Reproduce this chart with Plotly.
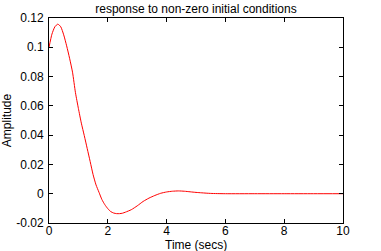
import plotly.graph_objects as go

time_s = [0.0, 0.1, 0.2, 0.3, 0.4, 0.5, 0.6, 0.7, 0.8, 0.9, 1.0, 1.1, 1.2, 1.3, 1.4,
          1.5, 1.6, 1.7, 1.8, 1.9, 2.0, 2.1, 2.2, 2.3, 2.4, 2.5, 2.6, 2.8, 3.0, 3.2,
          3.4, 3.6, 3.8, 4.0, 4.2, 4.4, 4.6, 4.8, 5.0, 5.2, 5.5, 6.0, 7.0, 8.0, 9.0, 10.0]
amplitude = [0.1000, 0.1090, 0.1140, 0.1158, 0.1140, 0.1085, 0.1010, 0.0925, 0.0830,
             0.0690, 0.0582, 0.0482, 0.0397, 0.0308, 0.0220, 0.0130, 0.0060, 0.0010,
             -0.0040, -0.0075, -0.0102, -0.0122, -0.0132, -0.0136, -0.0136, -0.0133,
             -0.0126, -0.0109, -0.0083, -0.0053, -0.0030, -0.0012, 0.0003, 0.0012,
             0.0017, 0.0019, 0.0017, 0.0013, 0.0009, 0.0006, 0.0002, 0.0, 0.0, 0.0,
             0.0, 0.0]

x_ticks = [0, 2, 4, 6, 8, 10]
y_ticks = [-0.02, 0, 0.02, 0.04, 0.06, 0.08, 0.1, 0.12]
y_labels = ["-0.02", "0", "0.02", "0.04", "0.06", "0.08", "0.1", "0.12"]

font = dict(family="Liberation Sans, Arial, sans-serif", size=12, color="black")

fig = go.Figure()
fig.add_trace(go.Scatter(x=time_s, y=amplitude, mode="lines",
                         line=dict(color="#ff0000", width=1, shape="spline", smoothing=0.6),
                         hoverinfo="skip"))

axis_common = dict(showline=True, linecolor="black", linewidth=1, mirror="allticks",
                   ticks="inside", ticklen=4, tickcolor="black", showgrid=False,
                   zeroline=False, tickfont=font, automargin=False)

fig.update_layout(
    width=381, height=251,
    margin=dict(l=49, r=38, t=18, b=28),
    paper_bgcolor="white", plot_bgcolor="white",
    showlegend=False,
    font=font,
    title=dict(text="response to non-zero initial conditions", x=0.5, xref="paper",
               xanchor="center", y=1, yref="paper", yanchor="bottom",
               pad=dict(b=5), font=font, automargin=False),
    xaxis=dict(range=[0, 10], tickvals=x_ticks, ticktext=[str(v) for v in x_ticks],
               ticklabelstandoff=-3, **axis_common),
    yaxis=dict(range=[-0.02, 0.12], tickvals=y_ticks, ticktext=y_labels,
               ticklabelstandoff=2,
               title=dict(text="Amplitude", font=font, standoff=3), **axis_common),
    annotations=[dict(text="Time (secs)", xref="paper", yref="paper", x=0.5, y=0,
                      xanchor="center", yanchor="top", yshift=-14, showarrow=False,
                      font=font, borderpad=0)],
)

fig.write_html("out.html")
